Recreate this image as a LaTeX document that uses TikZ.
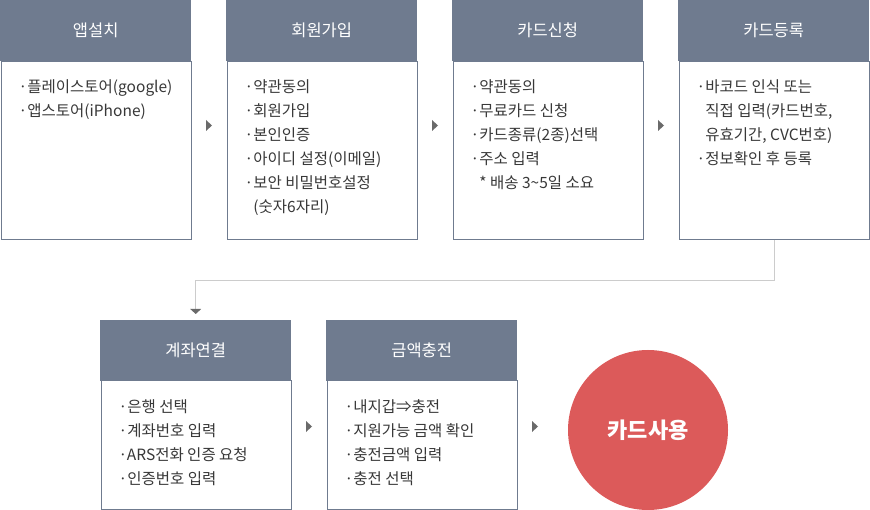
\documentclass[tikz,border=0pt]{standalone}
\usepackage{fontspec}
\setmainfont{Noto Sans CJK KR}
\usetikzlibrary{calc}
\definecolor{slate}{HTML}{6F7B8F}
\definecolor{txt}{HTML}{383838}
\definecolor{linegray}{HTML}{CCCCCC}
\definecolor{redc}{HTML}{DC5A5A}
\definecolor{tricol}{HTML}{6A6A6A}
\begin{document}
\begin{tikzpicture}[x=1pt,y=-1pt,
  bodybox/.style={draw=slate, line width=1pt, fill=white, minimum width=190pt, inner sep=0pt, anchor=north west},
  headbox/.style={fill=slate, minimum width=191pt, minimum height=61pt, inner sep=0pt, anchor=north west, text=white, font=\fontsize{16.5}{19}\selectfont},
  item/.style={anchor=base west, inner sep=0pt, text=txt, font=\fontsize{15.5}{18}\selectfont},
  conn/.style={draw=linegray, line width=1pt},
  usecircle/.style={circle, fill=redc, minimum size=160pt, inner sep=0pt, text=white, font=\fontsize{22}{26}\selectfont\bfseries}]
\useasboundingbox (0,0) rectangle (870,510);

% top row
\node[bodybox, minimum height=178pt] (b1) at (0.5,61) {};
\node[bodybox, minimum height=178pt] (b2) at (226.5,61) {};
\node[bodybox, minimum height=178pt] (b3) at (452.5,61) {};
\node[bodybox, minimum height=178pt] (b4) at (678.5,61) {};
\node[headbox] (h1) at (0,0) {앱설치};
\node[headbox] (h2) at (226,0) {회원가입};
\node[headbox] (h3) at (452,0) {카드신청};
\node[headbox] (h4) at (678,0) {카드등록};

% bottom row
\node[bodybox, minimum height=129pt] (b5) at (100.5,380) {};
\node[bodybox, minimum height=129pt] (b6) at (326.5,380) {};
\node[headbox] (h5) at (100,320) {계좌연결};
\node[headbox] (h6) at (326,320) {금액충전};

\node[usecircle] (use) at (648,430) {카드사용};

% texts
\foreach \t [count=\i] in {{·플레이스토어(google)},{·앱스토어(iPhone)}}
  \node[item] (t1-\i) at ($(b1.north west)+(18,32+24*\i-24)$) {\t};
\foreach \t [count=\i] in {{·약관동의},{·회원가입},{·본인인증},{·아이디 설정(이메일)},{·보안 비밀번호설정},{\hphantom{·}(숫자6자리)}}
  \node[item] (t2-\i) at ($(b2.north west)+(18,32+24*\i-24)$) {\t};
\foreach \t [count=\i] in {{·약관동의},{·무료카드 신청},{·카드종류(2종)선택},{·주소 입력},{\hphantom{·}* 배송 3\textasciitilde5일 소요}}
  \node[item] (t3-\i) at ($(b3.north west)+(18,32+24*\i-24)$) {\t};
\foreach \t [count=\i] in {{·바코드 인식 또는},{\hphantom{·}직접 입력(카드번호,},{\hphantom{·}유효기간, CVC번호)},{·정보확인 후 등록}}
  \node[item] (t4-\i) at ($(b4.north west)+(18,32+24*\i-24)$) {\t};
\foreach \t [count=\i] in {{·은행 선택},{·계좌번호 입력},{·ARS전화 인증 요청},{·인증번호 입력}}
  \node[item] (t5-\i) at ($(b5.north west)+(18,32+24*\i-24)$) {\t};
\foreach \t [count=\i] in {{·내지갑⇒충전},{·지원가능 금액 확인},{·충전금액 입력},{·충전 선택}}
  \node[item] (t6-\i) at ($(b6.north west)+(18,32+24*\i-24)$) {\t};

% small step arrows
\foreach \a/\b in {b1/b2,b2/b3,b3/b4}
  \fill[tricol] ($(\a.east)!0.5!(\b.west)+(-3,-30.5)$) -- ++(6,5.5) -- ++(-6,5.5) -- cycle;
\fill[tricol] ($(b5.east)!0.5!(b6.west)+(-3,-24)$) -- ++(6,5.5) -- ++(-6,5.5) -- cycle;
\coordinate (a6) at ($(b6.east)+(17.5,-24)$);
\fill[tricol] ($(a6)+(-3,0)$) -- ++(6,5.5) -- ++(-6,5.5) -- cycle;

% connector from box 4 to box 5
\coordinate (c5) at ($(h5.north)+(0,-11)$);
\draw[conn] (b4.south) -- ++(0,41) -| (c5);
\fill[tricol] ($(c5)+(-5.5,0)$) -- ++(11,0) -- ++(-5.5,5) -- cycle;
\end{tikzpicture}
\end{document}
